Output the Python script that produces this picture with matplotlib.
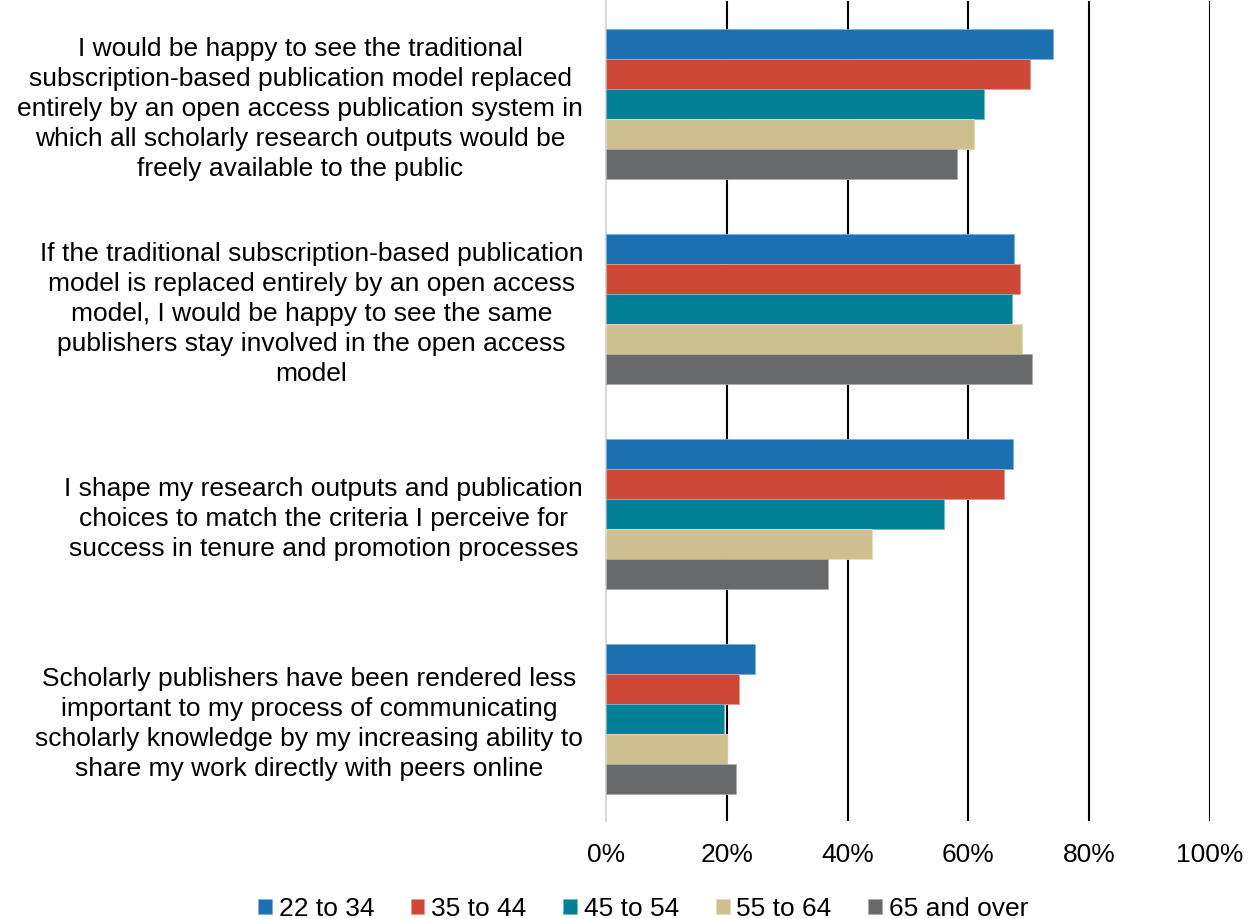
import numpy as np
import matplotlib
matplotlib.use("Agg")
import matplotlib.pyplot as plt
from matplotlib.colors import to_rgb

plt.rcParams['font.family'] = ['Liberation Sans', 'DejaVu Sans']

statements = [
    "I would be happy to see the traditional\nsubscription-based publication model replaced\nentirely by an open access publication system in\nwhich all scholarly research outputs would be\nfreely available to the public",
    "If the traditional subscription-based publication\nmodel is replaced entirely by an open access\nmodel, I would be happy to see the same\npublishers stay involved in the open access\nmodel",
    "I shape my research outputs and publication\nchoices to match the criteria I perceive for\nsuccess in tenure and promotion processes",
    "Scholarly publishers have been rendered less\nimportant to my process of communicating\nscholarly knowledge by my increasing ability to\nshare my work directly with peers online",
]

age_groups = ["22 to 34", "35 to 44", "45 to 54", "55 to 64", "65 and over"]

# Share agreeing (%) per statement, one list per age group
age_22_34 = [74.0, 67.5, 67.4, 24.6]
age_35_44 = [70.2, 68.5, 65.9, 22.0]
age_45_54 = [62.5, 67.3, 55.9, 19.5]
age_55_64 = [60.9, 68.9, 44.1, 20.0]
age_65_up = [58.1, 70.6, 36.8, 21.6]

series = [age_22_34, age_35_44, age_45_54, age_55_64, age_65_up]
colors = ["#1A70B1", "#CF4835", "#028096", "#CDC08E", "#68696B"]

x_ticks = [0, 20, 40, 60, 80, 100]
x_tick_labels = ["0%", "20%", "40%", "60%", "80%", "100%"]


def lighten(c, amt=0.45):
    r, g, b = to_rgb(c)
    return (r + (1 - r) * amt, g + (1 - g) * amt, b + (1 - b) * amt)


fig = plt.figure(figsize=(12.49, 9.19), dpi=100)
ax = fig.add_axes([606 / 1249, 1 - 821 / 919, (1210 - 606) / 1249, 820 / 919])

n = len(series)
bar_h = 30 / 205
y = np.arange(len(statements))
for i, (vals, col) in enumerate(zip(series, colors)):
    ax.barh(y + (i - (n - 1) / 2) * bar_h, vals, height=bar_h, color=col,
            edgecolor=lighten(col), linewidth=0.6, label=age_groups[i], zorder=3)

ax.set_xlim(0, 100)
ax.set_ylim(len(statements) - 0.5, -0.5)

fs = 19
ax.set_xticks(x_ticks)
ax.set_xticklabels(x_tick_labels, fontsize=fs)
ax.set_yticks(y)
ax.set_yticklabels(statements, fontsize=fs, ha="right", multialignment="center",
                   linespacing=1.31)
ax.tick_params(axis="x", length=0, pad=16)
ax.tick_params(axis="y", length=0, pad=16.5)

ax.grid(axis="x", color="black", linewidth=1.5, zorder=1)
ax.set_axisbelow(True)
ax.get_xgridlines()[0].set_visible(False)

for side in ["top", "right", "bottom"]:
    ax.spines[side].set_visible(False)
ax.spines["left"].set_color("#D9D9D9")
ax.spines["left"].set_linewidth(1.5)
ax.spines["left"].set_zorder(2)

leg = fig.legend(loc="center", bbox_to_anchor=(643 / 1249, 1 - 909 / 919), ncol=5,
                 frameon=False, fontsize=fs, handlelength=0.53, handleheight=0.53,
                 handletextpad=0.26, columnspacing=1.38, borderaxespad=0)

fig.savefig("out.png", dpi=100, facecolor="white")
